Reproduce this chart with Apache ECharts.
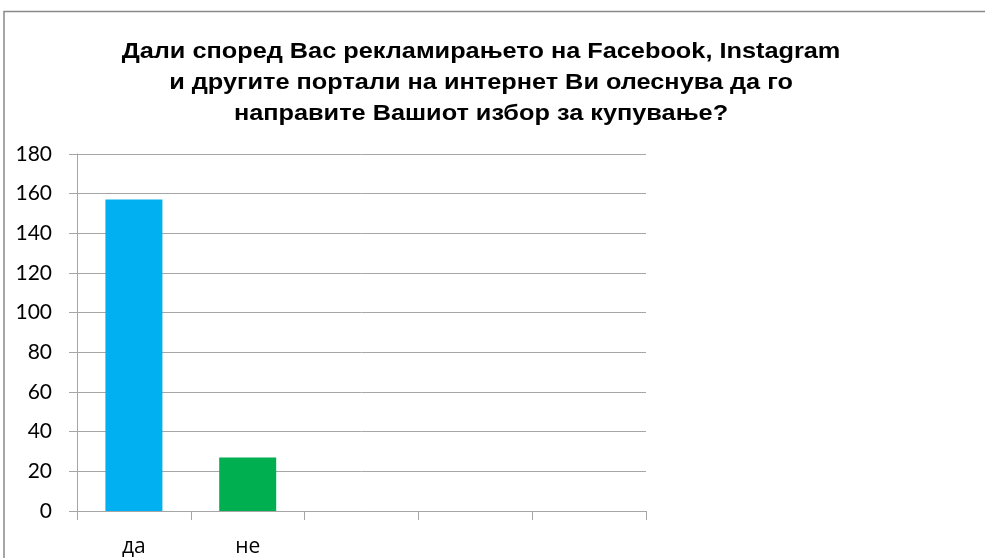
<!DOCTYPE html>
<html><head><meta charset="utf-8">
<script src="https://cdn.jsdelivr.net/npm/echarts@6/dist/echarts.min.js"></script>
<style>html,body{margin:0;padding:0;background:#fff}#c{width:985px;height:558px}</style>
</head><body><div id="c"></div>
<script>
const categories = ['да', 'не', '', '', ''];
const values = [157, 27, null, null, null];
const barColors = ['#00b0f0', '#00b050', '#00b0f0', '#00b0f0', '#00b0f0'];
const titleText = 'Дали според Вас рекламирањето на Facebook, Instagram\nи другите портали на интернет Ви олеснува да го\nнаправите Вашиот избор за купување?';

const chart = echarts.init(document.getElementById('c'));
chart.setOption({
  animation: false,
  graphic: [{
    type: 'polyline', shape: {points: [[4, 558], [4, 11.5], [985, 11.5]]},
    style: {stroke: '#898989', lineWidth: 1.5, fill: null}, silent: true
  }, {
    type: 'text', x: 481, y: 36, scaleX: 1.15, silent: true,
    style: {
      text: titleText, align: 'center', verticalAlign: 'top',
      fontFamily: 'Liberation Sans', fontWeight: 'bold', fontSize: 22, lineHeight: 31, fill: '#000'
    }
  }],
  grid: {left: 77, top: 154, right: 339, bottom: 47, containLabel: false},
  xAxis: {
    type: 'category', data: categories,
    axisLine: {lineStyle: {color: '#a6a6a6', width: 1}},
    axisTick: {show: true, length: 9, lineStyle: {color: '#a6a6a6'}},
    axisLabel: {fontFamily: 'Open Sans', fontSize: 21, color: '#000', margin: 26}
  },
  yAxis: {
    type: 'value', min: 0, max: 180, interval: 20,
    axisLine: {show: true, lineStyle: {color: '#a6a6a6', width: 1}},
    axisTick: {show: true, length: 8, lineStyle: {color: '#a6a6a6'}},
    splitLine: {lineStyle: {color: '#a6a6a6', width: 1}},
    axisLabel: {fontFamily: 'Lato', fontSize: 21, color: '#000', margin: 25}
  },
  series: [{
    type: 'bar', data: values, barWidth: 57,
    itemStyle: {color: function(p){ return barColors[p.dataIndex]; }}
  }]
});
</script></body></html>
